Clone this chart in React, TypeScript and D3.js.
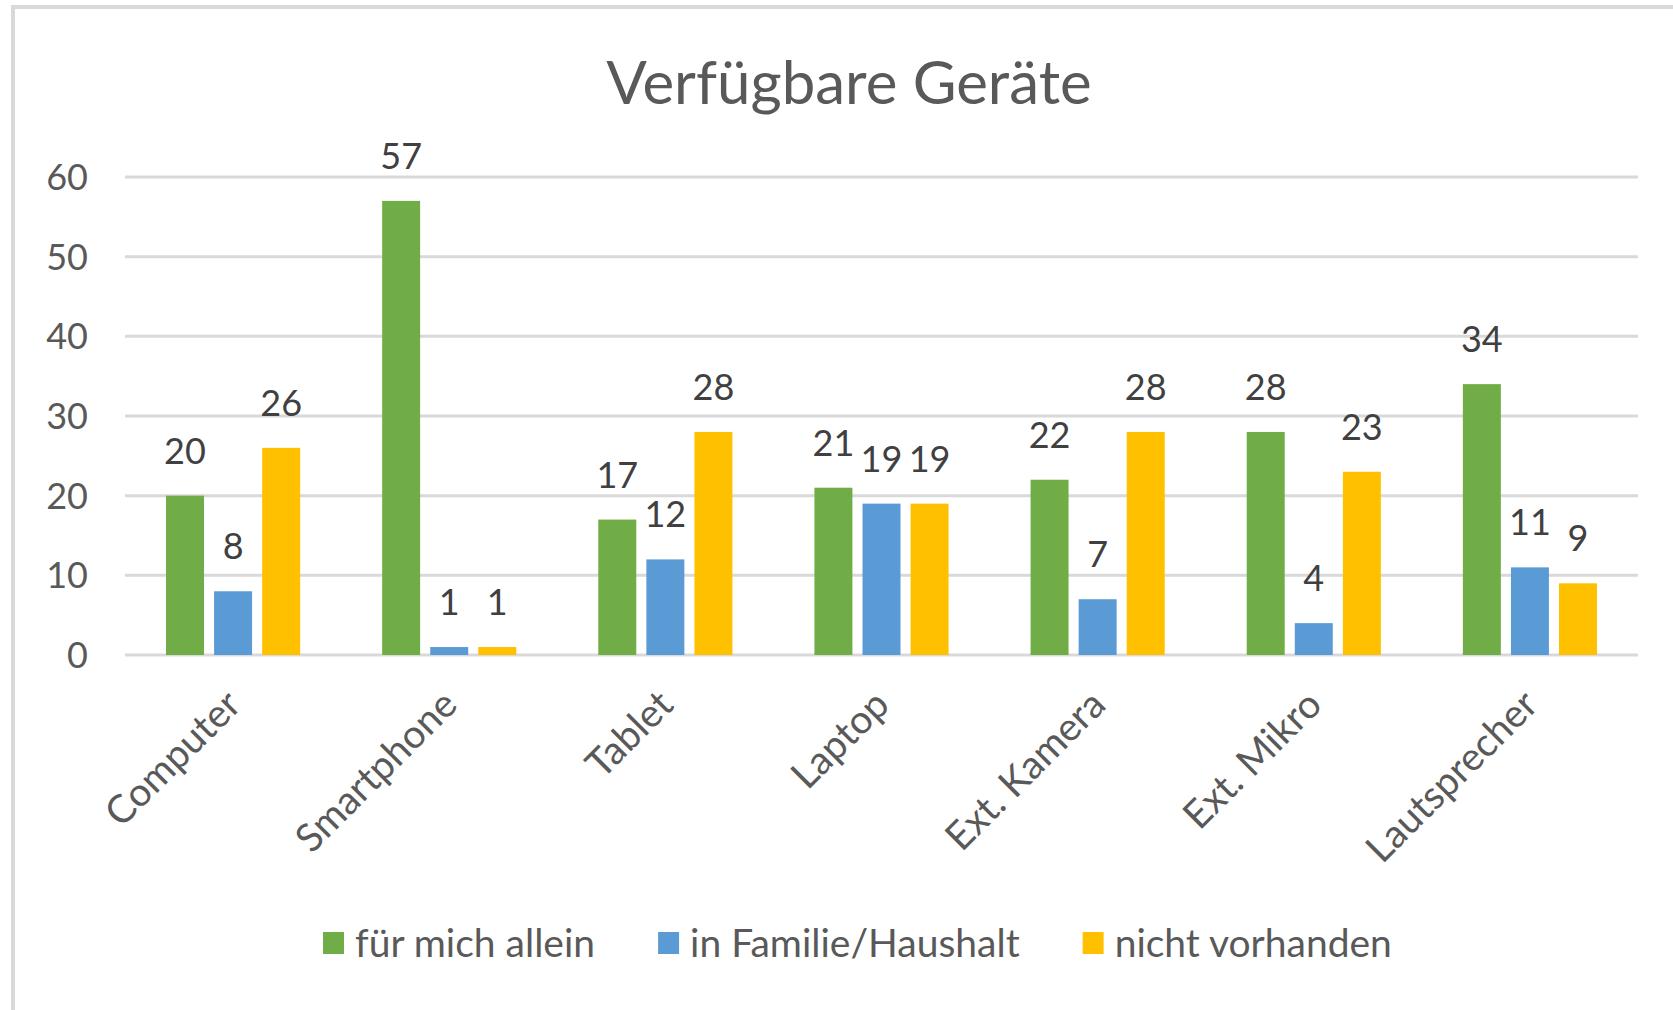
import React, { useRef, useEffect } from 'react';
import * as d3 from 'd3';

const title = 'Verfügbare Geräte';
const categories = ['Computer', 'Smartphone', 'Tablet', 'Laptop', 'Ext. Kamera', 'Ext. Mikro', 'Lautsprecher'];
const seriesNames = ['für mich allein', 'in Familie/Haushalt', 'nicht vorhanden'];
const seriesColors = ['#70AD47', '#5B9BD5', '#FFC000'];
const fuerMichAllein = [20, 57, 17, 21, 22, 28, 34];
const inFamilie = [8, 1, 12, 19, 7, 4, 11];
const nichtVorhanden = [26, 1, 28, 19, 28, 23, 9];
const yTicks = [0, 10, 20, 30, 40, 50, 60];

const FONT = 'Lato, "Open Sans", sans-serif';

const App = () => {
  const svgRef = useRef<SVGSVGElement>(null);
  const width = 1673;
  const height = 1010;

  useEffect(() => {
    const svg = d3.select(svgRef.current);
    svg.selectAll('*').remove();

    const values = [fuerMichAllein, inFamilie, nichtVorhanden];
    const margin = { left: 125, right: 35, top: 177, bottom: 355 };

    // frame
    svg.append('rect')
      .attr('x', 13).attr('y', 7)
      .attr('width', width + 20).attr('height', height + 20)
      .attr('fill', 'white')
      .attr('stroke', '#D9D9D9')
      .attr('stroke-width', 4);

    svg.append('text')
      .attr('x', 849).attr('y', 104)
      .attr('text-anchor', 'middle')
      .attr('font-family', FONT)
      .attr('font-size', 60)
      .attr('fill', '#595959')
      .text(title);

    const xScale = d3.scaleBand<string>()
      .domain(categories)
      .range([margin.left, width - margin.right]);

    const xSub = d3.scaleBand<string>()
      .domain(seriesNames)
      .range([41, xScale.bandwidth() - 41])
      .paddingInner(0.21);

    const yScale = d3.scaleLinear()
      .domain([0, 60])
      .range([height - margin.bottom, margin.top]);

    // gridlines
    svg.append('g')
      .selectAll('line')
      .data(yTicks)
      .enter()
      .append('line')
      .attr('x1', margin.left)
      .attr('x2', width - margin.right)
      .attr('y1', d => yScale(d))
      .attr('y2', d => yScale(d))
      .attr('stroke', '#D9D9D9')
      .attr('stroke-width', 3);

    // y labels
    svg.append('g')
      .selectAll('text')
      .data(yTicks)
      .enter()
      .append('text')
      .attr('x', 88)
      .attr('y', d => yScale(d))
      .attr('dy', '0.36em')
      .attr('text-anchor', 'end')
      .attr('font-family', FONT)
      .attr('font-size', 36)
      .attr('fill', '#595959')
      .text(d => d);

    // bars + labels
    seriesNames.forEach((name, si) => {
      const data = categories.map((c, i) => ({ c, v: values[si][i] }));
      const g = svg.append('g');
      g.selectAll('rect')
        .data(data)
        .enter()
        .append('rect')
        .attr('x', d => xScale(d.c)! + xSub(name)!)
        .attr('y', d => yScale(d.v))
        .attr('width', xSub.bandwidth())
        .attr('height', d => yScale(0) - yScale(d.v))
        .attr('fill', seriesColors[si]);

      g.selectAll('text')
        .data(data)
        .enter()
        .append('text')
        .attr('x', d => xScale(d.c)! + xSub(name)! + xSub.bandwidth() / 2)
        .attr('y', d => yScale(d.v) - 32)
        .attr('text-anchor', 'middle')
        .attr('font-family', FONT)
        .attr('font-size', 36)
        .attr('fill', '#404040')
        .text(d => d.v);
    });

    // category labels
    svg.append('g')
      .selectAll('text')
      .data(categories)
      .enter()
      .append('text')
      .attr('transform', d => `translate(${xScale(d)! + xScale.bandwidth() / 2 + 10},${yScale(0) + 52}) rotate(-45)`)
      .attr('text-anchor', 'end')
      .attr('font-family', FONT)
      .attr('font-size', 39)
      .attr('fill', '#595959')
      .text(d => d);

    // legend
    const legend = svg.append('g');
    let lx = 323;
    seriesNames.forEach((name, si) => {
      legend.append('rect')
        .attr('x', lx).attr('y', 932)
        .attr('width', 21).attr('height', 22)
        .attr('fill', seriesColors[si]);
      const t = legend.append('text')
        .attr('x', lx + 32).attr('y', 943)
        .attr('dy', '0.36em')
        .attr('font-family', FONT)
        .attr('font-size', 39)
        .attr('fill', '#595959')
        .text(name);
      const w = (t.node() as SVGTextElement).getComputedTextLength();
      lx += 32 + w + 63;
    });
  }, []);

  return (
    <svg ref={svgRef} width={width} height={height}
      style={{ position: 'absolute', left: 0, top: 0, display: 'block' }} />
  );
};

export default App;
